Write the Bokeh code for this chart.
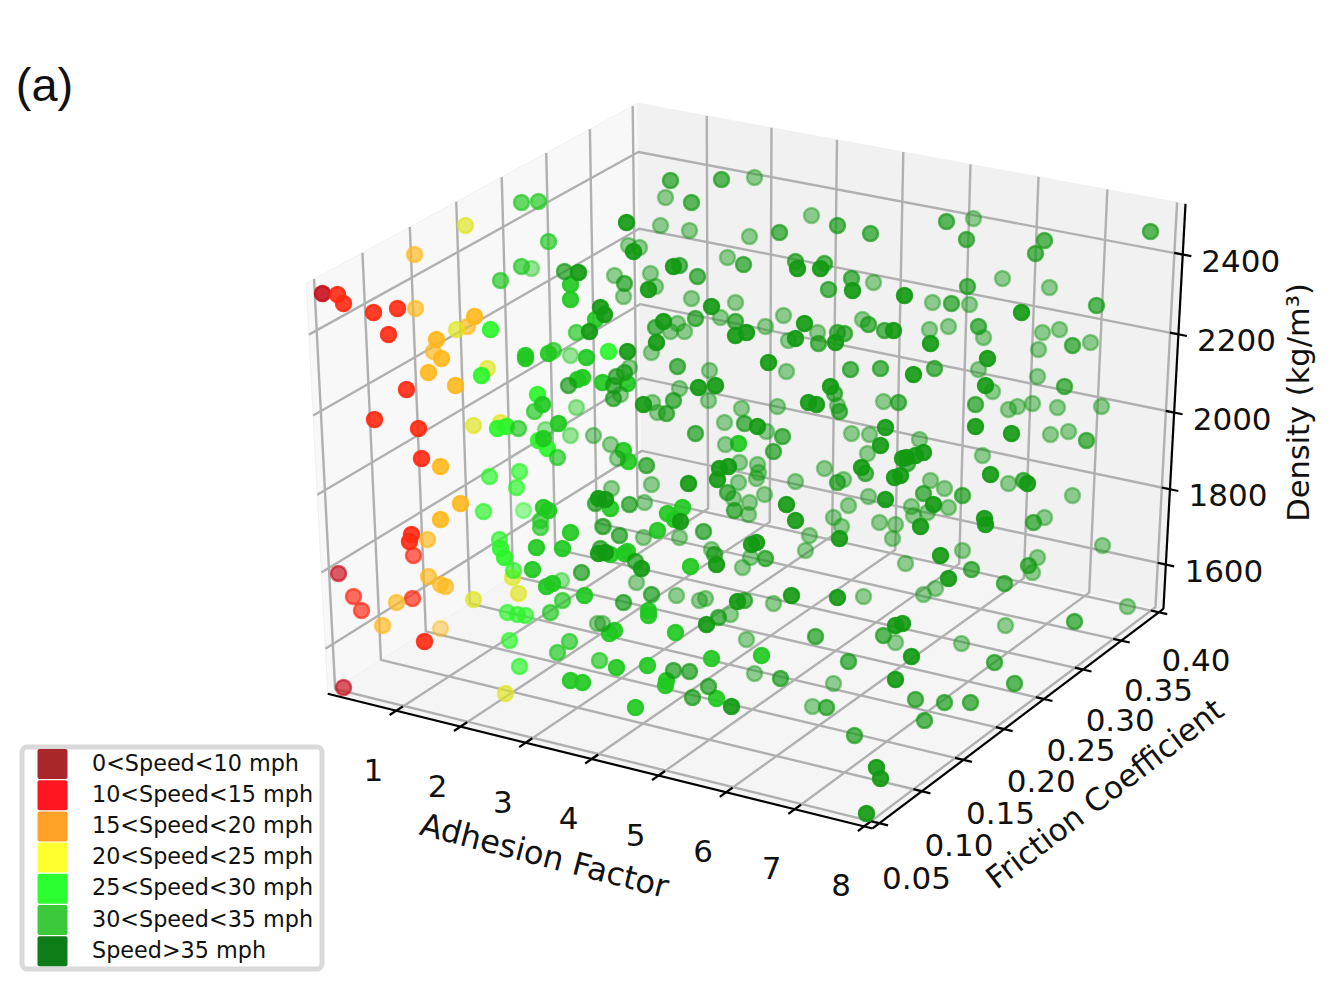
import numpy as np
from bokeh.core.properties import value
from bokeh.embed import file_html
from bokeh.plotting import figure
from bokeh.resources import INLINE

# axis limits and ticks of the 3d box
x_lim = (-0.08, 8.12)
y_lim = (0.042, 0.406)
z_lim = (1480, 2525)
x_ticks = [1, 2, 3, 4, 5, 6, 7, 8]
y_ticks = [0.05, 0.10, 0.15, 0.20, 0.25, 0.30, 0.35, 0.40]
z_ticks = [1600, 1800, 2000, 2200, 2400]

legend_labels = ["0<Speed<10 mph", "10<Speed<15 mph", "15<Speed<20 mph", "20<Speed<25 mph",
                 "25<Speed<30 mph", "30<Speed<35 mph", "Speed>35 mph"]
legend_colors = ["#a9262b", "#ff1620", "#ffa126", "#ffff30", "#2bff30", "#3cca3c", "#0f7d17"]
point_colors = ["#c80f1e", "#ff2a12", "#ffb81c", "#dfe61e", "#2af52a", "#1fc91f", "#129a12"]

# points as they sit on the picture: (across, down, depth) with depth 0 near .. 2 far
speed_0_10 = [(322, 293, 0), (338, 573, 1), (343, 687, 1)]
speed_10_15 = [(337, 294, 0), (343, 303, 0), (373, 312, 0), (397, 308, 0), (388, 334, 0), (406, 389, 0),
               (374, 419, 0), (418, 428, 0), (421, 458, 0), (411, 534, 0), (409, 541, 0), (413, 555, 1),
               (412, 598, 1), (424, 641, 0), (353, 596, 1), (361, 610, 1)]
speed_15_20 = [(414, 254, 1), (415, 308, 1), (436, 339, 0), (433, 351, 1), (441, 358, 0), (428, 372, 0),
               (455, 385, 0), (474, 316, 0), (467, 326, 1), (440, 466, 0), (460, 503, 0), (440, 519, 0),
               (427, 539, 1), (428, 576, 1), (440, 584, 1), (445, 586, 1), (396, 602, 1), (382, 625, 1),
               (440, 628, 2)]
speed_20_25 = [(465, 225, 1), (456, 329, 1), (487, 368, 1), (473, 425, 1), (500, 422, 1), (473, 599, 1),
               (518, 593, 1), (512, 577, 1), (505, 693, 1)]
speed_25_30 = [(490, 329, 0), (481, 375, 0), (537, 394, 0), (506, 426, 0), (497, 428, 0), (489, 476, 1),
               (519, 471, 1), (516, 487, 1), (483, 511, 1), (523, 510, 2), (499, 539, 1), (500, 548, 0),
               (504, 557, 0), (513, 570, 1), (507, 612, 1), (517, 614, 1), (525, 615, 1), (509, 640, 1),
               (519, 666, 1), (608, 351, 0), (547, 448, 0), (538, 440, 0)]
speed_30_35 = [(521, 202, 1), (538, 201, 1), (548, 241, 1), (521, 266, 1), (531, 268, 2), (500, 280, 1),
               (570, 284, 0), (570, 299, 0), (576, 332, 1), (595, 319, 0), (525, 355, 0), (525, 358, 0),
               (548, 353, 0), (553, 350, 1), (570, 355, 2), (586, 357, 0), (582, 377, 0), (577, 379, 0),
               (602, 382, 0), (576, 407, 2), (542, 404, 0), (534, 411, 1), (545, 429, 2), (558, 423, 0),
               (518, 428, 1), (570, 435, 2), (543, 438, 0), (627, 383, 0), (557, 457, 1), (543, 507, 0),
               (548, 510, 0), (540, 520, 1), (540, 527, 1), (570, 532, 0), (536, 547, 0), (562, 548, 0),
               (532, 569, 0), (546, 586, 0), (552, 583, 0), (561, 580, 2), (562, 600, 1), (584, 595, 0),
               (550, 612, 1), (569, 641, 1), (557, 652, 1), (570, 680, 0), (582, 682, 0), (599, 660, 1),
               (623, 450, 0), (628, 461, 0), (610, 508, 0), (667, 513, 0), (682, 507, 0), (674, 519, 0),
               (657, 530, 0), (610, 554, 0), (624, 553, 0), (627, 551, 0), (690, 566, 0), (648, 610, 0),
               (648, 615, 0), (675, 632, 0), (609, 633, 0), (614, 630, 0), (761, 655, 0), (711, 658, 0),
               (616, 667, 0), (647, 665, 0), (666, 680, 0), (665, 685, 0), (716, 698, 0), (635, 707, 0),
               (738, 443, 0)]
speed_over_35 = [(564, 271, 1), (578, 272, 0), (589, 331, 0), (600, 307, 0), (604, 314, 0), (568, 385, 1),
                 (593, 435, 2), (581, 572, 1), (597, 623, 2), (595, 503, 1), (598, 498, 0), (602, 526, 2),
                 (600, 548, 1), (598, 553, 0),
                 (670, 180, 1), (721, 179, 1), (754, 177, 2), (665, 197, 2), (691, 202, 1), (626, 222, 0),
                 (660, 225, 2), (689, 230, 2), (749, 236, 2), (779, 232, 1), (811, 215, 2), (837, 225, 1),
                 (870, 233, 1), (628, 245, 2), (639, 247, 2), (633, 251, 0), (614, 275, 2), (624, 283, 1),
                 (623, 296, 2), (650, 273, 2), (655, 286, 2), (648, 289, 0), (673, 266, 0), (679, 265, 1),
                 (697, 276, 1), (727, 257, 2), (743, 264, 1), (795, 261, 1), (797, 268, 0), (820, 268, 0),
                 (824, 263, 1), (851, 278, 1), (852, 290, 0), (873, 282, 2), (828, 289, 1), (904, 295, 0),
                 (691, 298, 2), (711, 306, 0), (735, 302, 2), (655, 327, 1), (663, 321, 0), (670, 331, 2),
                 (677, 323, 2), (684, 331, 2), (695, 318, 1), (720, 317, 2), (735, 321, 1), (735, 335, 0),
                 (746, 332, 0), (765, 326, 2), (783, 315, 2), (804, 323, 0), (788, 340, 2), (795, 338, 0),
                 (817, 332, 2), (818, 343, 1), (835, 342, 0), (837, 332, 1), (844, 333, 1), (862, 319, 2),
                 (868, 324, 1), (884, 330, 1), (893, 330, 0), (656, 342, 0), (651, 352, 2), (627, 351, 0),
                 (629, 367, 2), (616, 376, 1), (624, 372, 1), (613, 385, 1), (620, 394, 2), (613, 398, 1),
                 (677, 366, 1), (709, 370, 2), (698, 387, 0), (715, 385, 0), (679, 388, 2), (673, 400, 1),
                 (708, 400, 2), (643, 404, 0), (652, 402, 2), (657, 412, 2), (666, 413, 1), (768, 362, 0),
                 (786, 371, 2), (850, 369, 1), (880, 368, 1), (830, 386, 0), (834, 393, 1), (883, 401, 2),
                 (898, 402, 1), (808, 402, 0), (816, 404, 0), (837, 405, 2), (839, 411, 1), (885, 427, 0),
                 (741, 408, 2), (777, 406, 2), (724, 422, 2), (744, 423, 1), (757, 426, 0), (766, 431, 2),
                 (695, 433, 1), (782, 436, 1), (851, 433, 2), (869, 434, 2),
                 (946, 221, 1), (973, 218, 2), (966, 239, 1), (1044, 240, 1), (1035, 253, 1), (1150, 231, 1),
                 (1002, 278, 2), (967, 286, 1), (1049, 287, 2), (932, 302, 2), (951, 303, 1), (969, 304, 2),
                 (1096, 305, 1), (1021, 312, 0), (929, 329, 2), (948, 326, 2), (978, 326, 1), (983, 337, 2),
                 (1042, 332, 2), (1059, 329, 2), (1072, 345, 1), (1090, 342, 2), (1038, 349, 2), (930, 343, 0),
                 (987, 358, 0), (978, 369, 2), (934, 368, 1), (913, 374, 0), (1037, 376, 2), (1064, 386, 1),
                 (985, 385, 0), (992, 391, 2), (975, 404, 1), (1008, 409, 2), (1017, 406, 2), (1032, 403, 2),
                 (1057, 407, 2), (1101, 406, 2), (975, 426, 0), (1011, 433, 0), (1050, 434, 2), (1068, 431, 2),
                 (1086, 440, 1), (919, 439, 2),
                 (617, 458, 2), (610, 444, 2), (646, 465, 1), (651, 484, 2), (688, 483, 0), (611, 488, 2),
                 (605, 499, 0), (629, 504, 1), (644, 502, 2), (680, 521, 0), (603, 526, 2), (619, 535, 1),
                 (643, 537, 2), (679, 537, 2), (703, 531, 1), (605, 552, 0), (635, 561, 1), (641, 568, 0),
                 (636, 582, 2), (711, 549, 2), (714, 554, 1), (716, 564, 0), (719, 468, 0), (728, 466, 0),
                 (739, 462, 2), (717, 479, 0), (738, 482, 2), (727, 492, 1), (733, 498, 2), (734, 510, 1),
                 (749, 502, 2), (748, 514, 2), (764, 494, 2), (757, 464, 2), (758, 472, 2), (756, 478, 2),
                 (725, 444, 2), (773, 451, 1), (786, 504, 0), (795, 520, 0), (795, 481, 2), (824, 468, 2),
                 (837, 482, 1), (843, 479, 2), (861, 467, 0), (865, 473, 1), (867, 453, 2), (880, 445, 0),
                 (868, 496, 2), (885, 499, 0), (894, 477, 0), (848, 505, 2), (833, 517, 2), (841, 526, 2),
                 (839, 538, 0), (809, 535, 2), (805, 550, 2), (879, 522, 2), (895, 524, 2), (892, 538, 2),
                 (751, 544, 0), (756, 542, 0), (750, 557, 2), (765, 558, 1), (742, 567, 2), (651, 594, 1),
                 (676, 595, 2), (623, 602, 1), (699, 600, 2), (705, 598, 2), (737, 601, 0), (744, 600, 1),
                 (773, 603, 2), (791, 595, 0), (837, 597, 0), (863, 596, 2), (718, 617, 1), (706, 624, 0),
                 (730, 614, 2), (602, 623, 2), (746, 639, 2), (815, 636, 1), (883, 635, 1), (895, 625, 0),
                 (895, 642, 2), (848, 661, 1), (673, 670, 1), (689, 671, 1), (754, 673, 2), (780, 678, 1),
                 (833, 683, 2), (895, 679, 0), (708, 686, 1), (692, 697, 1), (731, 706, 0), (812, 706, 2),
                 (826, 707, 1),
                 (923, 452, 0), (915, 455, 0), (906, 457, 0), (902, 458, 0), (907, 463, 1), (900, 475, 0),
                 (982, 455, 2), (990, 474, 0), (1008, 483, 2), (1023, 480, 1), (1027, 483, 0), (1072, 495, 2),
                 (930, 480, 2), (944, 488, 2), (923, 493, 1), (962, 495, 1), (933, 504, 0), (948, 507, 2),
                 (911, 506, 2), (927, 512, 2), (913, 515, 2), (920, 526, 0), (984, 518, 0), (985, 524, 0),
                 (1033, 522, 1), (1044, 517, 2), (1102, 545, 2), (962, 550, 2), (940, 555, 0), (905, 563, 2),
                 (971, 569, 1), (948, 578, 0), (1037, 557, 2), (1028, 565, 1), (1032, 572, 2), (1004, 583, 1),
                 (935, 588, 2), (923, 594, 2), (1127, 606, 2), (1005, 625, 2), (1074, 621, 1), (902, 623, 0),
                 (961, 643, 2), (911, 656, 0), (994, 662, 1), (1014, 683, 1), (915, 699, 1), (944, 702, 1),
                 (970, 702, 1), (924, 720, 1), (854, 735, 1), (876, 767, 0), (880, 778, 0), (866, 813, 0)]
speed_groups = [speed_0_10, speed_10_15, speed_15_20, speed_20_25, speed_25_30, speed_30_35, speed_over_35]
depth_alpha = {0: 0.9, 1: 0.68, 2: 0.45}

# where the box corners fall on the page, used to fit the perspective
corners_unit = [(0, 0, 0), (1, 0, 0), (1, 1, 0), (0, 1, 0), (0, 0, 1), (0, 1, 1), (1, 1, 1)]
corners_page = [(327, 692), (872, 829), (1163, 607), (642, 495), (306, 283), (637, 102), (1185, 204)]


def fit_camera():
    rows = []
    for (a, b, c), (u, v) in zip(corners_unit, corners_page):
        rows.append([a, b, c, 1, 0, 0, 0, 0, -u * a, -u * b, -u * c, -u])
        rows.append([0, 0, 0, 0, a, b, c, 1, -v * a, -v * b, -v * c, -v])
    return np.linalg.svd(np.array(rows, dtype=float))[2][-1].reshape(3, 4)


camera = fit_camera()


def unit(val, lim):
    return (val - lim[0]) / (lim[1] - lim[0])


def project(a, b, c):
    u, v, w = camera @ np.array([a, b, c, 1.0])
    return u / w, v / w


def seg(*pts):
    xy = [project(*q) for q in pts]
    return [q[0] for q in xy], [q[1] for q in xy]


p = figure(width=1316, height=983, x_range=(0, 1316), y_range=(983, 0), output_backend="svg",
           toolbar_location=None, min_border=0, background_fill_color="white")
p.xaxis.visible = False
p.yaxis.visible = False
p.grid.visible = False
p.outline_line_color = None

# panes
for pane, col in [([(0, 0, 0), (0, 1, 0), (0, 1, 1), (0, 0, 1)], "#f8f8f8"),
                  ([(0, 1, 0), (1, 1, 0), (1, 1, 1), (0, 1, 1)], "#f1f1f1"),
                  ([(0, 0, 0), (1, 0, 0), (1, 1, 0), (0, 1, 0)], "#f5f5f5")]:
    xs, ys = seg(*pane)
    p.patch(xs, ys, fill_color=col, line_color="#f0f0f0", line_width=1)

# grid
xs_grid, ys_grid = [], []
for t in x_ticks:
    a = unit(t, x_lim)
    xs, ys = seg((a, 0, 0), (a, 1, 0), (a, 1, 1))
    xs_grid.append(xs)
    ys_grid.append(ys)
for t in y_ticks:
    b = unit(t, y_lim)
    xs, ys = seg((1, b, 0), (0, b, 0), (0, b, 1))
    xs_grid.append(xs)
    ys_grid.append(ys)
for t in z_ticks:
    c = unit(t, z_lim)
    xs, ys = seg((0, 0, c), (0, 1, c), (1, 1, c))
    xs_grid.append(xs)
    ys_grid.append(ys)
p.multi_line(xs_grid, ys_grid, line_color="#b0b0b0", line_width=2.4)

# axis lines and tick marks
xs_ax, ys_ax = [], []
for q in [((0, 0, 0), (1, 0, 0)), ((1, 0, 0), (1, 1, 0)), ((1, 1, 0), (1, 1, 1))]:
    xs, ys = seg(*q)
    xs_ax.append(xs)
    ys_ax.append(ys)
for t in x_ticks:
    a = unit(t, x_lim)
    xs, ys = seg((a, -0.02, 0), (a, 0.02, 0))
    xs_ax.append(xs)
    ys_ax.append(ys)
for t in y_ticks:
    b = unit(t, y_lim)
    xs, ys = seg((0.985, b, 0), (1.015, b, 0))
    xs_ax.append(xs)
    ys_ax.append(ys)
for t in z_ticks:
    c = unit(t, z_lim)
    xs, ys = seg((0.985, 1, c), (1.015, 1, c))
    xs_ax.append(xs)
    ys_ax.append(ys)
p.multi_line(xs_ax, ys_ax, line_color="black", line_width=2.2)

# points, far ones first inside each group
for group, col in zip(speed_groups, point_colors):
    ordered = sorted(group, key=lambda q: -q[2])
    p.scatter([q[0] for q in ordered], [q[1] for q in ordered], size=15, line_width=2.5, color=col,
              alpha=[depth_alpha[q[2]] for q in ordered])


def label(x, y, txt, size=31.0, angle=0.0, font="DejaVu Sans", align="center"):
    p.text([x], [y], text=[txt], text_font=value(font), text_font_size=value(f"{size}px"), angle=angle,
           text_align=align, text_baseline="middle", text_color="#111111")


# tick labels
for t in x_ticks:
    x, y = project(unit(t, x_lim), 0, 0)
    label(x - 23, y + 59, str(t))
for t in y_ticks:
    x, y = project(1, unit(t, y_lim), 0)
    label(x + 37, y + 55 - 20 * (t - 0.05), f"{t:.2f}")
for t in z_ticks:
    x, y = project(1, 1, unit(t, z_lim))
    label(x + 58, y + 6, str(t))

label(544, 855, "Adhesion Factor", size=32, angle=np.radians(-14.5))
label(1104, 793, "Friction Coefficient", angle=np.radians(37.5))
label(1298, 402, "Density (kg/m³)", size=30.5, angle=np.pi / 2)
label(44, 84, "(a)", size=47, font="Liberation Sans")

# legend
p.quad(left=[21.5], right=[321.5], top=[746.5], bottom=[968.5], fill_color="white", line_color="#d9d9d9",
       line_width=5, border_radius=5)
for i, (txt, col) in enumerate(zip(legend_labels, legend_colors)):
    row = 763.5 + 31.2 * i
    p.quad(left=[37], right=[67], top=[row - 15], bottom=[row + 15], fill_color=col, line_color=None,
           border_radius=2)
    label(91.5, row - 1.5, txt, size=22.3, align="left")

open("out.html", "w").write(file_html(p, INLINE))
